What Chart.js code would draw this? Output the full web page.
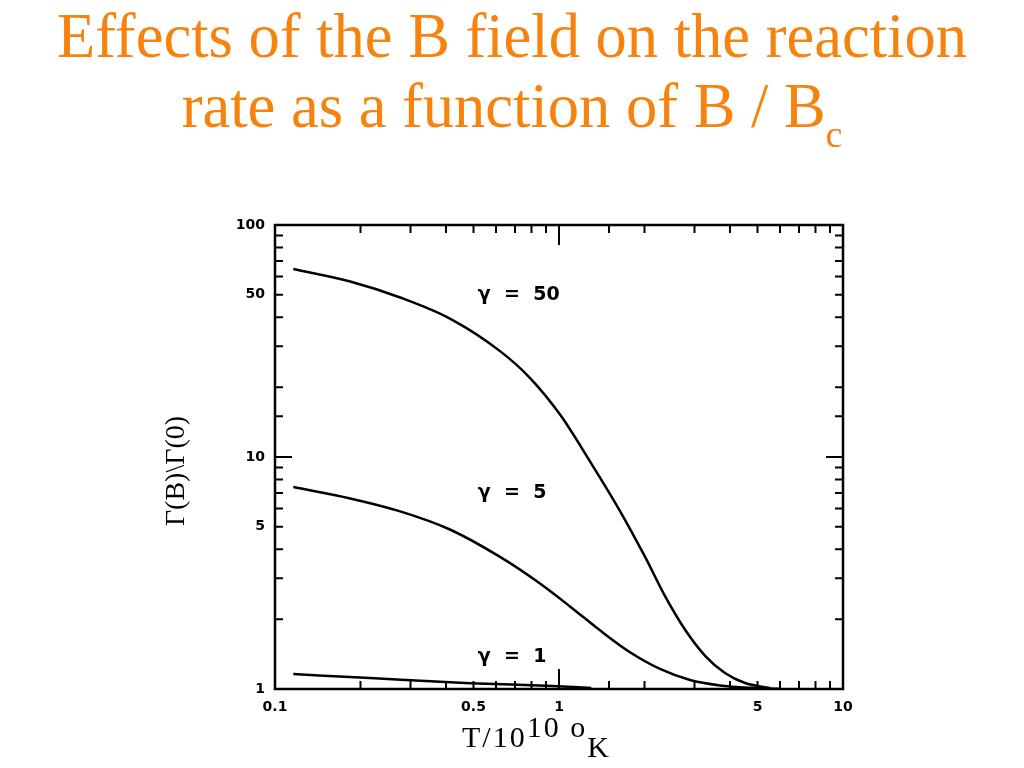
<!DOCTYPE html>
<html>
<head>
<meta charset="utf-8">
<script src="https://cdn.jsdelivr.net/npm/chart.js@4.4.0/dist/chart.umd.min.js"></script>
<style>
  html, body { margin: 0; padding: 0; background: #fff; }
  body { width: 1024px; height: 768px; position: relative; overflow: hidden; }
  #title {
    position: absolute; left: 0; top: 1px; width: 1024px; text-align: center;
    font-family: 'Liberation Serif', 'Times New Roman', serif;
    font-size: 62.5px; line-height: 70px; color: #f7830f;
  }
  #title .sub { font-size: 0.6em; position: relative; top: 20px; }
  #chart { position: absolute; left: 0; top: 0; }
  #xTitle {
    position: absolute; left: 462px; top: 722px; white-space: nowrap;
    font-family: 'Liberation Serif', 'Times New Roman', serif;
    font-size: 30px; line-height: 30px; letter-spacing: 2px; color: #000;
  }
  #xTitle .up { position: relative; top: -10px; }
  #xTitle .down { position: relative; top: 10px; }
</style>
</head>
<body>
<div id="title">Effects of the B field on the reaction<br>rate as a function of B / B<span class="sub">c</span></div>
<canvas id="chart" width="1024" height="768"></canvas>
<div id="xTitle">T/10<span class="up">10</span> <span class="up">o</span><span class="down">K</span></div>
<script>
// curves: T / 10^10 K  vs  Gamma(B)/Gamma(0)
var temps50 = [0.116, 0.184, 0.276, 0.413, 0.62, 0.791, 1.01, 1.29, 1.64, 2.01, 2.36, 2.78, 3.27, 3.84, 4.52, 5.53];
var gamma50 = [64.6, 57.1, 48.7, 39.5, 28.6, 21.9, 15.2, 9.51, 5.85, 3.71, 2.52, 1.80, 1.39, 1.172, 1.061, 1.01];

var temps5 = [0.116, 0.184, 0.276, 0.413, 0.62, 0.857, 1.093, 1.394, 1.778, 2.268, 2.893, 3.689, 4.705, 6.0];
var gamma5 = [7.42, 6.63, 5.83, 4.87, 3.71, 2.85, 2.27, 1.79, 1.44, 1.22, 1.093, 1.036, 1.012, 1.002];

var temps1 = [0.116, 0.216, 0.486, 0.95, 1.3];
var gamma1 = [1.16, 1.115, 1.06, 1.03, 1.01];

var xTickLabels = [0.1, 0.5, 1, 5, 10];
var yTickLabels = [1, 5, 10, 50, 100];

var curveNames = ['\u03b3  =  50', '\u03b3  =  5', '\u03b3  =  1'];
var labelX = [0.518, 0.518, 0.518];
var labelY = [50, 7.0, 1.37];

function pts(xs, ys) {
    return xs.map(function (x, i) { return { x: x, y: ys[i] }; });
}

function isLabelled(v, list) {
    return list.some(function (l) { return Math.abs(v - l) < 1e-9 * Math.max(1, l); });
}

// inward ticks, closed frame and the gamma labels
var frame = {
    id: 'frame',
    afterDatasetsDraw: function (chart) {
        var ctx = chart.ctx, a = chart.chartArea;
        var xs = chart.scales.x, ys = chart.scales.y;
        ctx.save();
        ctx.strokeStyle = '#000';
        ctx.lineWidth = 2;
        ctx.beginPath();
        xs.ticks.forEach(function (t) {
            var px = xs.getPixelForValue(t.value);
            var len = Math.abs(t.value - 1) < 1e-9 ? 20 : 8;
            ctx.moveTo(px, a.bottom); ctx.lineTo(px, a.bottom - len);
            ctx.moveTo(px, a.top); ctx.lineTo(px, a.top + len);
        });
        ys.ticks.forEach(function (t) {
            var py = ys.getPixelForValue(t.value);
            var len = Math.abs(t.value - 10) < 1e-9 ? 17 : 8;
            ctx.moveTo(a.left, py); ctx.lineTo(a.left + len, py);
            ctx.moveTo(a.right, py); ctx.lineTo(a.right - len, py);
        });
        ctx.stroke();
        ctx.lineWidth = 2.5;
        ctx.strokeRect(a.left, a.top, a.right - a.left, a.bottom - a.top);

        ctx.fillStyle = '#000';
        ctx.font = 'bold 19px "DejaVu Sans"';
        ctx.textAlign = 'left';
        ctx.textBaseline = 'middle';
        curveNames.forEach(function (n, i) {
            ctx.fillText(n, xs.getPixelForValue(labelX[i]), ys.getPixelForValue(labelY[i]));
        });
        ctx.restore();
    }
};

var tickFont = { family: 'DejaVu Sans', weight: 'bold', size: 14 };

function lineSet(name, xs, ys) {
    return {
        label: name,
        data: pts(xs, ys),
        borderColor: '#000',
        backgroundColor: '#000',
        borderWidth: 2.5,
        pointRadius: 0,
        fill: false,
        cubicInterpolationMode: 'monotone'
    };
}

var ctx = document.getElementById('chart').getContext('2d');
window.rateChart = new Chart(ctx, {
    type: 'line',
    data: {
        datasets: [
            lineSet(curveNames[0], temps50, gamma50),
            lineSet(curveNames[1], temps5, gamma5),
            lineSet(curveNames[2], temps1, gamma1)
        ]
    },
    options: {
        responsive: false,
        animation: false,
        devicePixelRatio: 1,
        layout: { padding: { left: 160, top: 225, right: 181, bottom: 19 } },
        plugins: {
            legend: { display: false },
            tooltip: { enabled: false },
            title: { display: false }
        },
        scales: {
            x: {
                type: 'logarithmic',
                min: 0.1,
                max: 10,
                grid: { display: false, drawTicks: false },
                border: { display: false },
                ticks: {
                    autoSkip: false,
                    maxRotation: 0,
                    padding: 10,
                    color: '#000',
                    font: tickFont,
                    callback: function (v) { return isLabelled(v, xTickLabels) ? String(v) : ''; }
                },
                afterFit: function (s) { s.height = 60; }
            },
            y: {
                type: 'logarithmic',
                min: 1,
                max: 100,
                grid: { display: false, drawTicks: false },
                border: { display: false },
                ticks: {
                    autoSkip: false,
                    padding: 10,
                    color: '#000',
                    font: tickFont,
                    callback: function (v) { return isLabelled(v, yTickLabels) ? String(v) : ''; }
                },
                title: {
                    display: true,
                    // trailing spaces push the rotated text a little lower, as in the original
                    text: '\u0393(B)\\\u0393(0)    ',
                    color: '#000',
                    font: { family: 'Liberation Serif', size: 28, lineHeight: 1.2 },
                    padding: { top: 0, bottom: 0 }
                },
                afterFit: function (s) { s.width = 115; }
            }
        }
    },
    plugins: [frame]
});
</script>
</body>
</html>
